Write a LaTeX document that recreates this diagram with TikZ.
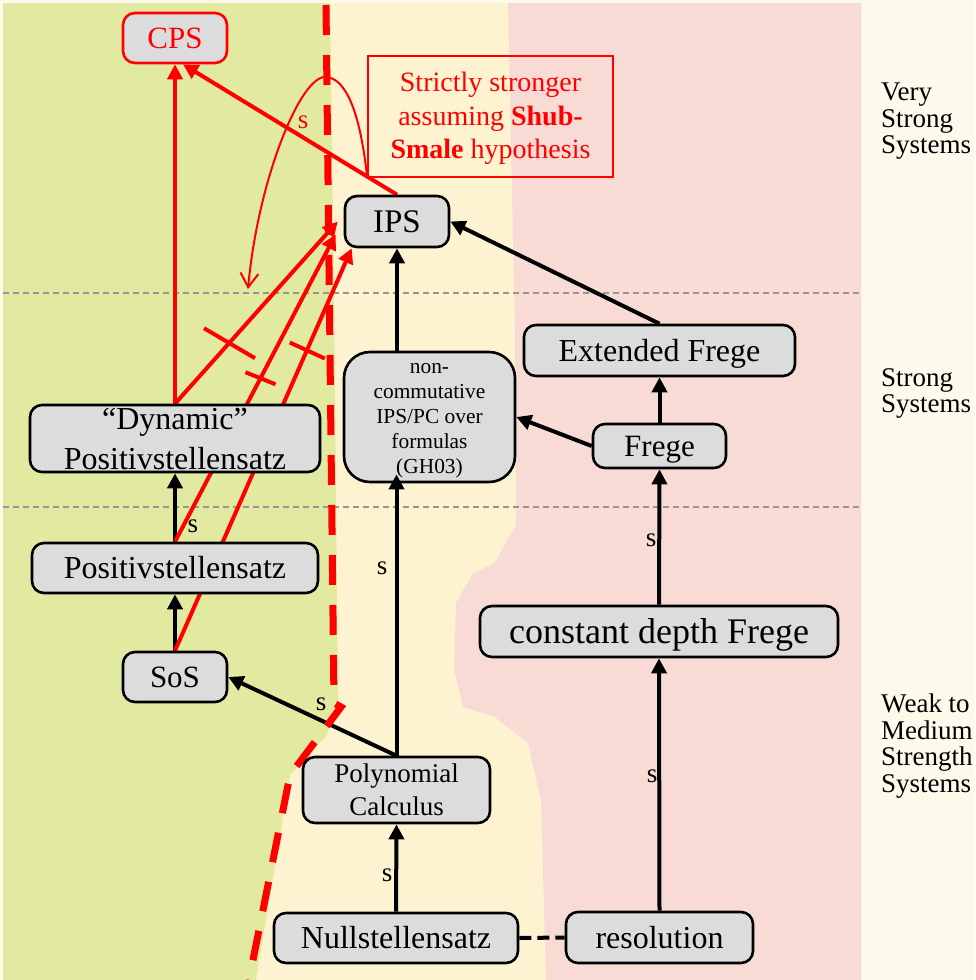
\documentclass[tikz,border=0pt]{standalone}
\usepackage{fontspec}
\setmainfont{Liberation Serif}
\usetikzlibrary{arrows.meta,calc}

\definecolor{pagebg}{HTML}{FDF9EB}
\definecolor{weakzone}{HTML}{E2EAA2}
\definecolor{midzone}{HTML}{FEF3D1}
\definecolor{strongzone}{HTML}{F8DBD5}
\definecolor{boxfill}{HTML}{DCDCDC}
\definecolor{levelline}{HTML}{959595}

\pgfdeclarelayer{zones}
\pgfdeclarelayer{links}
\pgfsetlayers{zones,links,main}

\tikzset{
  txt/.style 2 args={font=\fontsize{#1}{#2}\selectfont},
  sysbox/.style={draw=black, line width=2.6pt, fill=boxfill, rounded corners=12pt, inner sep=0pt},
  oneline/.style={text height=#1, text depth=0pt},
  blackarrow/.style={draw=black, line width=4pt, -{Triangle[length=15pt,width=15pt]}},
  redarrow/.style={draw=red, line width=4pt, -{Triangle[length=15pt,width=15pt]}},
  blocktick/.style={draw=red, line width=4pt},
  slabel/.style={txt={27}{27}, inner sep=0pt},
  levelname/.style={txt={27}{26.5}, align=left, inner sep=0pt, anchor=north west},
}

\begin{document}
\begin{tikzpicture}[x=1pt,y=-1pt]
\useasboundingbox (0,0) rectangle (975,980);

% ---------- strength zones ----------
\begin{pgfonlayer}{zones}
  \fill[pagebg] (0,0) rectangle (975,980);
  \fill[midzone] (3,3) rectangle (861,980);
  \fill[weakzone] (3,3) -- (330,3) -- (334,290) -- (338,700) -- (327,735)
    -- (290,775) -- (256,980) -- (3,980) -- cycle;
  \fill[strongzone] (508,3) -- (861,3) -- (861,980) -- (546,980) -- (541,800)
    -- (528,743) -- (495,717) -- (463,707) -- (454,670) -- (456,603)
    -- (472,575) -- (495,562) -- (516,525) -- (515,330) -- cycle;
  \draw[levelline, line width=1.2pt, dash pattern=on 6pt off 4pt] (3,293) -- (861,293);
  \draw[levelline, line width=1.2pt, dash pattern=on 6pt off 4pt] (3,507) -- (861,507);
\end{pgfonlayer}

% ---------- proof systems ----------
\node[sysbox, draw=red, text=red, txt={31}{31}, oneline=20.5pt,
      minimum width=104pt, minimum height=50pt] (CPS) at (175,38) {CPS};
\node[sysbox, txt={33}{33}, oneline=21.8pt,
      minimum width=104pt, minimum height=51pt] (IPS) at (397,221.5) {IPS};
\node[sysbox, txt={32}{32}, oneline=21.2pt,
      minimum width=271pt, minimum height=51pt] (EF) at (659.5,350.5) {Extended Frege};
\node[sysbox, txt={31}{31}, oneline=20.5pt,
      minimum width=133pt, minimum height=44pt] (Frege) at (659.5,446) {Frege};
\node[sysbox, rounded corners=26pt, align=center, txt={21.4}{25},
      minimum width=171pt, minimum height=130pt] (nc) at (429.5,417)
      {\rule{0pt}{18pt}non-\\commutative\\IPS/PC over\\formulas\\(GH03)};
\node[sysbox, align=center, txt={32}{40},
      minimum width=290pt, minimum height=67pt] (Dyn) at (175,438.5)
      {“Dynamic”\\Positivstellensatz};
\node[sysbox, txt={32}{32}, oneline=21.2pt,
      minimum width=286pt, minimum height=50pt] (Pos) at (175,568) {Positivstellensatz};
\node[sysbox, txt={31}{31}, oneline=20.5pt,
      minimum width=104pt, minimum height=50pt] (SoS) at (175,677) {SoS};
\node[sysbox, txt={36}{36}, oneline=23.8pt,
      minimum width=358pt, minimum height=51pt] (cdF) at (659,631.5) {constant depth Frege};
\node[sysbox, align=center, txt={27}{33},
      minimum width=187pt, minimum height=66pt] (PC) at (396.5,790) {Polynomial\\Calculus};
\node[sysbox, txt={32}{32}, oneline=21.2pt,
      minimum width=244pt, minimum height=50pt] (Null) at (396,938) {Nullstellensatz};
\node[sysbox, txt={32}{32}, oneline=21.2pt,
      minimum width=187pt, minimum height=51pt] (res) at (659.5,937.5) {resolution};

% annotation box
\node[draw=red, line width=1.6pt, text=red, align=center, txt={28}{33.5}, inner sep=0pt,
      minimum width=245pt, minimum height=121pt] (note) at (490.5,116.5)
      {\rule{0pt}{24pt}Strictly stronger\\assuming \textbf{Shub-}\\\textbf{Smale} hypothesis};

% level names
\node[levelname] (lvlvery) at (881,83) {Very\\Strong\\Systems};
\node[levelname] (lvlstrong) at (881,368) {Strong\\Systems};
\node[levelname] (lvlweak) at (881,694) {Weak to\\Medium\\Strength\\Systems};

\coordinate (curveend) at (248,289);

% ---------- simulations ----------
\begin{pgfonlayer}{links}
  \draw[blackarrow] (Null.north) -- (PC.south);
  \draw[blackarrow] (PC.north) -- (SoS.east);
  \draw[blackarrow] (SoS.north) -- (Pos.south);
  \draw[blackarrow] (Pos.north) -- (Dyn.south);
  \draw[blackarrow] (IPS.south |- nc.north) -- (IPS.south);
  \draw[blackarrow] (Frege.west) -- (nc.east);
  \draw[blackarrow] (Frege.north) -- (EF.south);
  \draw[blackarrow] (EF.north) -- (IPS.east);
  \draw[blackarrow] (cdF.north) -- (Frege.south);
  \draw[blackarrow] (res.north) -- (cdF.south);
  \draw[black, line width=4pt, dash pattern=on 12pt off 6pt] (Null.east) -- (res.west);

  \draw[redarrow] (Dyn.north) -- (CPS.south);
  \draw[redarrow] (IPS.north) -- ($(CPS.south)+(8,0)$);

  % non-simulations into IPS
  \draw[redarrow] (Dyn.north) -- coordinate[pos=0.332] (ta) ($(IPS.west)+(-6,0)$);
  \draw[redarrow] (Pos.north) -- coordinate[pos=0.532] (tb) ($(IPS.west)+(-8,13)$);
  \draw[redarrow] (SoS.north) -- coordinate[pos=0.746] (tc) ($(IPS.south west)+(8,0)$);
  \draw[blocktick] ($(ta)+(-25,-15)$) -- ($(ta)+(26,15)$);
  \draw[blocktick] ($(tb)+(-15,-6)$) -- ($(tb)+(15,6)$);
  \draw[blocktick] ($(tc)+(-17,-8)$) -- ($(tc)+(18,8)$);

  \draw[red, line width=2pt, -{Straight Barb[length=14pt,width=18pt]}]
    (note.south west) .. controls (360,110) and (345,77) .. (325,77)
    .. controls (300,77) and (258,180) .. (curveend);

  % boundary of the weak systems
  \draw[red, line width=7pt, dash pattern=on 30pt off 20pt]
    (326,5) -- (334,703) -- (341,707) -- (290,775) -- (249,980);
\end{pgfonlayer}

\draw[blackarrow] (PC.north) -- ($(PC.north |- nc.south)+(0,-9)$);

% simulation labels
\node[slabel, text=red] (sred) at (303,122) {s};
\node[slabel] (spos) at (193,526) {s};
\node[slabel] (ssos) at (321,704) {s};
\node[slabel] (snc) at (382,568) {s};
\node[slabel] (spc) at (387,875) {s};
\node[slabel] (sfrege) at (651,540) {s};
\node[slabel] (scdf) at (652,776) {s};
\end{tikzpicture}
\end{document}
